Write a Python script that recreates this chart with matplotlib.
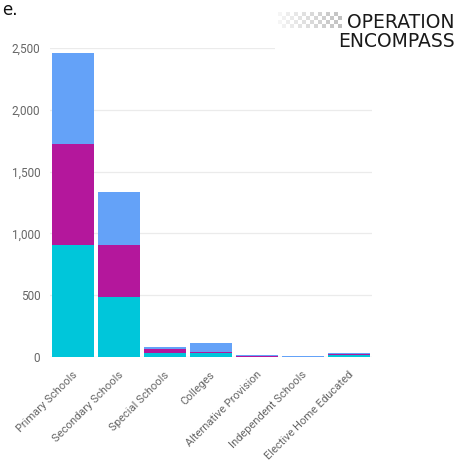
import matplotlib
matplotlib.use("Agg")
import matplotlib.pyplot as plt
from matplotlib.patches import Rectangle
import matplotlib.transforms as mtransforms

categories = ["Primary Schools", "Secondary Schools", "Special Schools", "Colleges",
              "Alternative Provision", "Independent Schools", "Elective Home Educated"]
series_cyan = [906, 485, 30, 30, 4, 2, 15]
series_magenta = [817, 421, 32, 8, 8, 2, 12]
series_blue = [737, 429, 16, 77, 3, 6, 3]
yticks = [0, 500, 1000, 1500, 2000, 2500]
ytick_labels = ["0", "500", "1,000", "1,500", "2,000", "2,500"]

c_cyan = "#00C6DA"
c_mag = "#B4179C"
c_blue = "#64A2F8"

W, H = 458, 466
fig = plt.figure(figsize=(W / 100, H / 100), dpi=100)
fig.patch.set_facecolor("white")
ax = fig.add_axes([50 / W, (H - 357) / H, 322 / W, 309 / H])

x = list(range(len(categories)))
bw = 42 / 46
ax.bar(x, series_cyan, width=bw, color=c_cyan, zorder=3)
b2 = [a for a in series_cyan]
ax.bar(x, series_magenta, width=bw, bottom=b2, color=c_mag, zorder=3)
b3 = [a + b for a, b in zip(series_cyan, series_magenta)]
ax.bar(x, series_blue, width=bw, bottom=b3, color=c_blue, zorder=3)

ax.set_xlim(-0.5, len(categories) - 0.5)
ax.set_ylim(0, 2500)
ax.set_yticks(yticks)
ax.set_yticklabels(ytick_labels, fontsize=8.5, color="#666666", family="Roboto")
ax.tick_params(axis="y", length=0, pad=7)
ax.tick_params(axis="x", length=0, pad=9)
ax.grid(axis="y", color="#ebebeb", linewidth=0.9, zorder=0)
for s in ax.spines.values():
    s.set_visible(False)
ax.axhline(0, color="#cccccc", linewidth=0.8, zorder=2)

ax.set_xticks(x)
labels = ax.set_xticklabels(categories, rotation=45, ha="right", va="top",
                            rotation_mode="anchor", fontsize=8, color="#666666",
                            family="Roboto")
offset = mtransforms.ScaledTranslation(-1 / 100, 0, fig.dpi_scale_trans)
for lab in labels:
    lab.set_transform(lab.get_transform() + offset)

# logo
logo_bg = Rectangle((275 / W, 1 - 52 / H), 183 / W, 50 / H, transform=fig.transFigure,
                    facecolor="white", edgecolor="none", zorder=5)
fig.add_artist(logo_bg)
sq = 4
for i in range(16):
    for j in range(4):
        if (i + j) % 2 == 0:
            xx = 278 + i * sq
            yy = 12 + j * sq
            alpha = 0.06 + 0.3 * (i / 15)
            fig.add_artist(Rectangle((xx / W, 1 - (yy + sq) / H), sq / W, sq / H,
                                     transform=fig.transFigure, facecolor="#555555",
                                     alpha=alpha, edgecolor="none", zorder=6))
fig.text(455 / W, 1 - 28 / H, "OPERATION", ha="right", va="baseline", fontsize=13.5,
         family="DejaVu Sans", color="#1a1a1a", zorder=7)
fig.text(455 / W, 1 - 47 / H, "ENCOMPASS", ha="right", va="baseline", fontsize=13.5,
         family="DejaVu Sans", color="#1a1a1a", zorder=7)

fig.text(2 / W, 1 - 1 / H, "e.", ha="left", va="top", fontsize=12,
         color="#111111", family="DejaVu Sans")

fig.savefig("out.png", dpi=100, facecolor="white")
